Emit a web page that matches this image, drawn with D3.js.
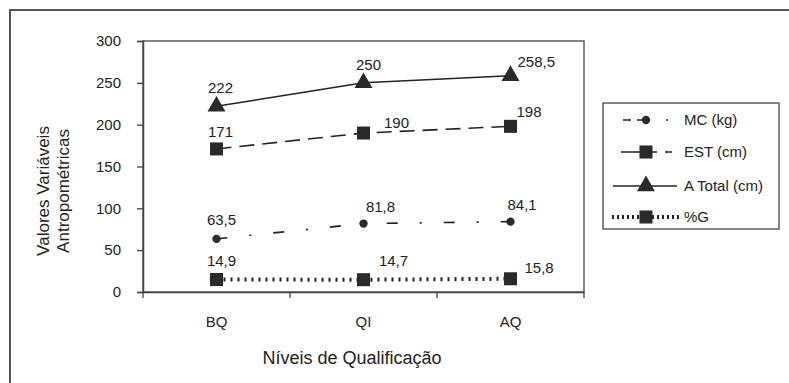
<!DOCTYPE html>
<html><head><meta charset="utf-8">
<script src="https://cdn.jsdelivr.net/npm/d3@7"></script>
<style>
body{margin:0;background:#fff;}
text{font-family:"Liberation Sans",Arial,sans-serif;fill:#222;}
</style></head>
<body><svg id="c" width="789" height="383"></svg>
<script>
const categories = ["BQ","QI","AQ"];
const seriesNames = ["MC (kg)","EST (cm)","A Total (cm)","%G"];
const mcValues = [63.5, 81.8, 84.1];
const estValues = [171, 190, 198];
const totalValues = [222, 250, 258.5];
const gValues = [14.9, 14.7, 15.8];
const yTicks = [0,50,100,150,200,250,300];

const fmt = v => String(v).replace(".", ",");

const svg = d3.select("#c");
const W=789,H=383;
const m = {left:143, top:41, right:584, bottom:292};

// outer frame (extends beyond the picture at right and bottom)
svg.append("path").attr("d","M10,"+(H+5)+" L10,10 L"+(W+5)+",10")
  .attr("fill","none").attr("stroke","#555").attr("stroke-width",2);

const x = d3.scaleBand().domain(categories).range([m.left,m.right]);
const y = d3.scaleLinear().domain([0,300]).range([m.bottom,m.top]);
const cx = c => x(c)+x.bandwidth()/2;

// plot frame
svg.append("rect").attr("x",m.left).attr("y",m.top).attr("width",m.right-m.left).attr("height",m.bottom-m.top)
  .attr("fill","none").attr("stroke","#444").attr("stroke-width",1.3);

// y axis
const ya = svg.append("g").attr("transform",`translate(${m.left},0)`)
  .call(d3.axisLeft(y).tickValues(yTicks).tickSize(6).tickPadding(16));
ya.select(".domain").attr("stroke","#444").attr("stroke-width",1.5);
ya.selectAll(".tick line").attr("stroke","#444").attr("stroke-width",1.3);
ya.selectAll(".tick text").style("font-size","15px").attr("fill","#222");

// x axis
const xa = svg.append("g").attr("transform",`translate(0,${m.bottom})`)
  .call(d3.axisBottom(x).tickSize(0).tickPadding(24));
xa.select(".domain").attr("stroke","#444").attr("stroke-width",1.5);
xa.selectAll(".tick text").style("font-size","15px").attr("fill","#222");
// x ticks at band boundaries
const bounds = categories.map(c=>x(c)).concat([m.right]);
svg.append("g").selectAll("line").data(bounds).join("line")
  .attr("x1",d=>d).attr("x2",d=>d).attr("y1",m.bottom).attr("y2",m.bottom+6)
  .attr("stroke","#444").attr("stroke-width",1.3);

// axis titles
svg.append("text").attr("x",352).attr("y",364).attr("text-anchor","middle")
  .style("font-size","18px").text("Níveis de Qualificação");
const yt = svg.append("text").attr("transform","translate(49,191) rotate(-90)").attr("text-anchor","middle")
  .style("font-size","17px");
yt.append("tspan").attr("x",0).attr("dy",0).text("Valores Variáveis");
yt.append("tspan").attr("x",0).attr("dy",20).text("Antropométricas");

// series styles (kept separate from data)
const styles = [
  {vals: mcValues, dash:"11,22,2,22", width:1.7, marker:"circle",
   labels:[[5,-14,"middle"],[17,-12,"middle"],[-3,-12,"start"]]},
  {vals: estValues, dash:"15,8", width:1.6, marker:"square",
   labels:[[4,-12,"middle"],[33,-5,"middle"],[6,-9,"start"]]},
  {vals: totalValues, dash:null, width:1.5, marker:"triangle",
   labels:[[4,-13,"middle"],[5,-13,"middle"],[7,-9,"start"]]},
  {vals: gValues, dash:"2,5", width:4, marker:"square",
   labels:[[5,-14,"middle"],[30,-14,"middle"],[14,-6,"start"]]}
];

const sym = {
  circle: d3.symbol().type(d3.symbolCircle).size(55),
  square: d3.symbol().type(d3.symbolSquare).size(170),
  triangle: d3.symbol().type(d3.symbolTriangle).size(140)
};

styles.forEach((s,si)=>{
  const line = d3.line().x((d,i)=>cx(categories[i])).y(d=>y(d));
  svg.append("path").attr("d",line(s.vals)).attr("fill","none")
    .attr("stroke","#222").attr("stroke-width",s.width)
    .attr("stroke-dasharray",s.dash);
  svg.append("g").selectAll("path").data(s.vals).join("path")
    .attr("transform",(d,i)=>`translate(${cx(categories[i])},${y(d)})`)
    .attr("d",sym[s.marker]()).attr("fill","#2a2a2a");
  svg.append("g").selectAll("text").data(s.vals).join("text")
    .attr("x",(d,i)=>cx(categories[i])+s.labels[i][0])
    .attr("y",(d,i)=>y(d)+s.labels[i][1])
    .attr("text-anchor",(d,i)=>s.labels[i][2])
    .style("font-size","15px").text(d=>fmt(d));
});

// legend
const lg = svg.append("g");
lg.append("rect").attr("x",603).attr("y",103).attr("width",176).attr("height",126)
  .attr("fill","#fff").attr("stroke","#444").attr("stroke-width",1.3);
const legY = [120,152,186,217];
const legLine = [
  {x1:623, x2:668, dash:"8,6,10,19,2"},
  {x1:621, x2:672, dash:"36,8,7"},
  {x1:613, x2:677, dash:null},
  {x1:612, x2:680, dash:"2,3"}
];
styles.forEach((s,i)=>{
  lg.append("line").attr("x1",legLine[i].x1).attr("x2",legLine[i].x2).attr("y1",legY[i]).attr("y2",legY[i])
    .attr("stroke","#222").attr("stroke-width",s.width)
    .attr("stroke-dasharray", legLine[i].dash);
  lg.append("path").attr("transform",`translate(646,${legY[i]})`)
    .attr("d",sym[s.marker]()).attr("fill","#2a2a2a");
  lg.append("text").attr("x",684).attr("y",legY[i]+5).style("font-size","15px").text(seriesNames[i]);
});
</script></body></html>
